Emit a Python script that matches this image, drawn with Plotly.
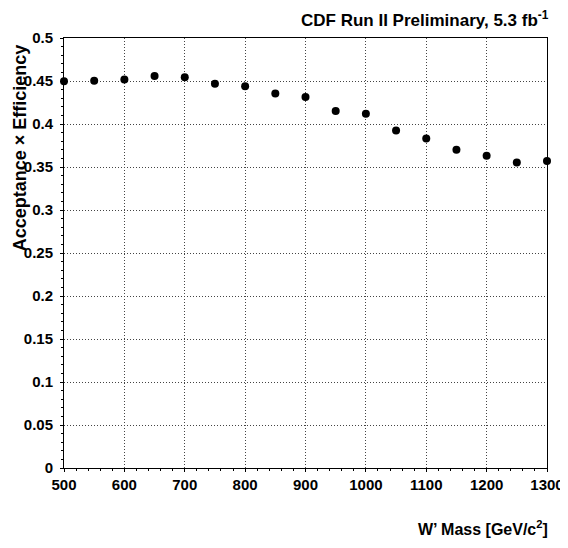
import plotly.graph_objects as go

mass = [500, 550, 600, 650, 700, 750, 800, 850, 900, 950, 1000, 1050, 1100, 1150, 1200, 1250, 1300]
acc_eff = [0.4496, 0.4504, 0.4518, 0.4558, 0.4544, 0.4467, 0.4438, 0.4356, 0.4314, 0.4150, 0.4118,
           0.3925, 0.3830, 0.3700, 0.3630, 0.3553, 0.3569]

W, H = 568, 548
L, R, T, B = 56, 20, 30, 88

font_fam = "Liberation Sans, Arial, Helvetica, sans-serif"

fig = go.Figure()
fig.add_trace(go.Scatter(
    x=mass, y=acc_eff, mode="markers",
    marker=dict(color="black", size=8, symbol="circle"),
    cliponaxis=False, showlegend=False,
))

axis_common = dict(
    showline=True, linecolor="black", linewidth=1, mirror=True,
    ticks="outside", ticklen=3, tickwidth=1, tickcolor="black",
    showgrid=True, gridcolor="#444444", griddash="1px,2px", gridwidth=1,
    zeroline=False,
    tickfont=dict(family=font_fam, size=15, color="black", weight="bold"),
)

fig.update_xaxes(
    range=[500, 1300], dtick=100, tick0=500,
    minor=dict(ticks="outside", ticklen=2, dtick=20, tickcolor="black", showgrid=False),
    ticklabeloverflow="allow",
    **axis_common,
)
fig.update_yaxes(
    range=[0, 0.5], dtick=0.05, tick0=0,
    minor=dict(ticks="outside", ticklen=2, dtick=0.01, tickcolor="black", showgrid=False),
    ticklabelstandoff=4,
    **axis_common,
)

fig.add_annotation(
    text="CDF Run II Preliminary, 5.3 fb<sup>-1</sup>",
    xref="paper", yref="paper", x=1.0, y=1.0, xanchor="right", yanchor="bottom",
    yshift=6, xshift=4, showarrow=False,
    font=dict(family=font_fam, size=17, color="black", weight="bold"),
)
fig.add_annotation(
    text="W’ Mass [GeV/c<sup>2</sup>]",
    xref="paper", yref="paper", x=1.0, y=0.0, xanchor="right", yanchor="top",
    yshift=-48, xshift=3, showarrow=False,
    font=dict(family=font_fam, size=16, color="black", weight="bold"),
)
fig.add_annotation(
    text="Acceptance × Efficiency",
    xref="paper", yref="paper", x=(11 - L) / (W - L - R), y=1.0,
    xanchor="center", yanchor="top", textangle=-90, showarrow=False, yshift=-4,
    font=dict(family=font_fam, size=18, color="black", weight="bold"),
)

fig.update_layout(
    width=W, height=H,
    margin=dict(l=L, r=R, t=T, b=B, pad=0),
    paper_bgcolor="white", plot_bgcolor="white",
)

fig.write_html("out.html")
